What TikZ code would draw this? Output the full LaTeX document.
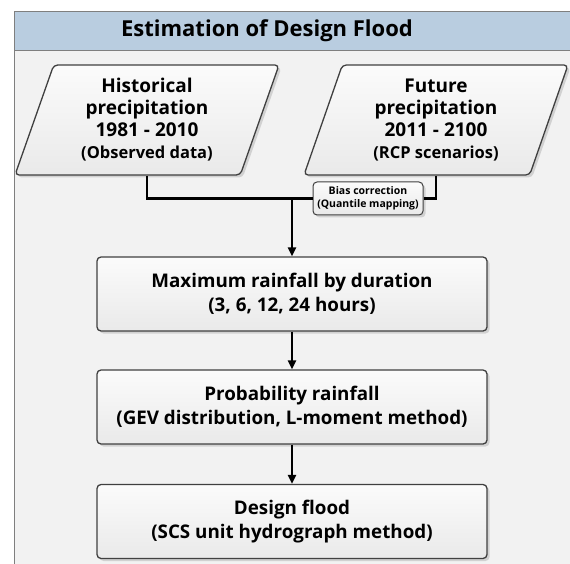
\documentclass[tikz,border=0pt]{standalone}
\usepackage{fontspec}
\setmainfont{Open Sans}
\usetikzlibrary{arrows.meta,shapes.geometric,shadows}
\definecolor{titrebleu}{HTML}{B9CDE0}
\definecolor{fond}{HTML}{F2F2F2}
\definecolor{cadre}{HTML}{7F7F7F}
\definecolor{bord}{HTML}{404040}
\tikzset{
  boite/.style={draw=bord,line width=1.3pt,rounded corners=4pt,top color=gray!3,bottom color=gray!17,
                drop shadow={shadow xshift=2.5pt,shadow yshift=-2.5pt,fill=black!30},
                align=center,inner sep=0pt,font=\bfseries\fontsize{18.8}{24}\selectfont},
  fleche/.style={-{Triangle[length=9pt,width=8pt]},line width=2.2pt},
  trait/.style={line width=2.2pt},
}

\begin{document}
\begin{tikzpicture}[x=1pt,y=-1pt,
  para/.style={boite,trapezium,trapezium left angle=65,trapezium right angle=115,
               trapezium stretches body,minimum width=264pt,minimum height=110pt,
               font=\bfseries\fontsize{19}{22}\selectfont},
  etape/.style={boite,minimum width=390pt,minimum height=74pt},
  petite/.style={boite,minimum width=110pt,minimum height=33pt,line width=1pt,
                 font=\bfseries\fontsize{10.5}{12.5}\selectfont}]
  \clip (0,0) rectangle (570,564);
  % cadre et bandeau de titre
  \draw[draw=cadre,fill=fond,line width=1pt] (14,12) rectangle (590,590);
  \draw[draw=cadre,fill=titrebleu,line width=1pt] (14,12) rectangle (590,51);
  \node[font=\bfseries\fontsize{22}{24}\selectfont] (titre) at (267,31) {Estimation of Design Flood};
  % donnees d'entree
  \node[para] (hist) at (147,120) {Historical\\precipitation\\1981 - 2010\\{\fontsize{16.5}{22}\selectfont(Observed data)}};
  \node[para] (fut) at (436,120) {Future\\precipitation\\2011 - 2100\\{\fontsize{16.5}{22}\selectfont(RCP scenarios)}};
  \node[petite] (bias) at (368,198.5) {Bias correction\\(Quantile mapping)};
  % etapes
  \node[etape] (duree) at (292,294) {Maximum rainfall by duration\\(3, 6, 12, 24 hours)};
  \node[etape] (proba) at (292,407) {Probability rainfall\\(GEV distribution, L-moment method)};
  \node[etape] (crue) at (292,521.5) {Design flood\\(SCS unit hydrograph method)};
  \coordinate (jonction) at (duree.north |- bias.west);
  \draw[trait] (hist.south) |- (bias.west);
  \draw[trait] (fut.south) |- (bias.east);
  \draw[fleche] (jonction) -- (duree.north);
  \draw[fleche] (duree) -- (proba);
  \draw[fleche] (proba) -- (crue);
\end{tikzpicture}
\end{document}
